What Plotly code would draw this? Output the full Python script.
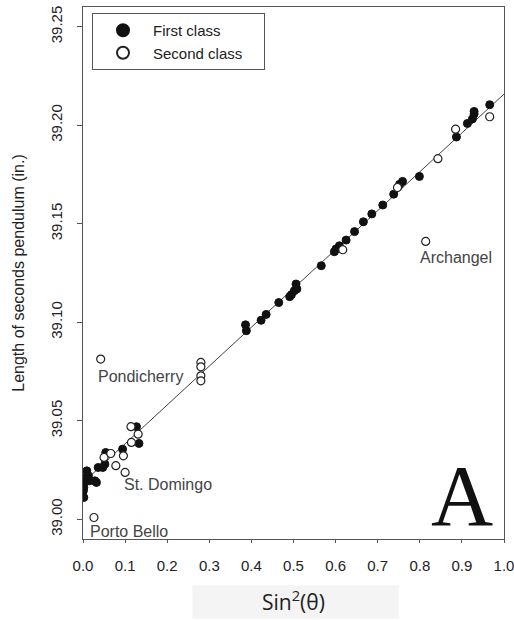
import plotly.graph_objects as go

# First class stations: sin^2(latitude), seconds-pendulum length (in.)
first_x = [0.001, 0.001, 0.002, 0.002, 0.007, 0.009, 0.013, 0.015, 0.028, 0.032,
           0.036, 0.047, 0.052, 0.054, 0.094, 0.127, 0.133,
           0.386, 0.388, 0.423, 0.435, 0.465, 0.491, 0.495, 0.502, 0.506, 0.508,
           0.566, 0.597, 0.601, 0.609, 0.625, 0.645, 0.666, 0.686, 0.712, 0.738,
           0.752, 0.759, 0.799, 0.887, 0.913, 0.925, 0.929, 0.929, 0.966]
first_y = [39.0145, 39.0179, 39.0111, 39.0161, 39.0212, 39.0246, 39.0221, 39.0195, 39.0195, 39.0187,
           39.0263, 39.0263, 39.0280, 39.0339, 39.0356, 39.0470, 39.0385,
           39.0987, 39.0957, 39.1010, 39.1040, 39.1100, 39.1130, 39.1140, 39.1160, 39.1194, 39.1169,
           39.1287, 39.1358, 39.1372, 39.1388, 39.1417, 39.1460, 39.1510, 39.1550, 39.1595, 39.1650,
           39.1700, 39.1715, 39.1740, 39.1940, 39.2009, 39.2032, 39.2057, 39.2070, 39.2104]

# Second class stations
second_x = [0.026, 0.042, 0.050, 0.066, 0.078, 0.096, 0.100, 0.114, 0.115, 0.131,
            0.280, 0.280, 0.280, 0.280, 0.617, 0.747, 0.814, 0.843, 0.885, 0.966]
second_y = [39.0009, 39.0813, 39.0314, 39.0334, 39.0272, 39.0322, 39.0238, 39.0470, 39.0390, 39.0432,
            39.0796, 39.0774, 39.0728, 39.0703, 39.1368, 39.1684, 39.1410, 39.1830, 39.1980, 39.2043]

# Fitted line endpoints
fit_x = [0.0, 1.0]
fit_y = [39.0186, 39.2158]

# Station labels
label_text = ["Pondicherry", "St. Domingo", "Porto Bello", "Archangel"]
label_x = [0.031, 0.092, 0.012, 0.795]
label_y = [39.0723, 39.0175, 38.9940, 39.1330]

x_ticks = [0.0, 0.1, 0.2, 0.3, 0.4, 0.5, 0.6, 0.7, 0.8, 0.9, 1.0]
y_ticks = [39.00, 39.05, 39.10, 39.15, 39.20, 39.25]

FONT = "Liberation Sans, Arial, sans-serif"
PAD = "\u00a0" * 4

fig = go.Figure()
fig.add_trace(go.Scatter(x=fit_x, y=fit_y, mode="lines",
                         line=dict(color="#444", width=1), showlegend=False, hoverinfo="skip"))
fig.add_trace(go.Scatter(x=first_x, y=first_y, mode="markers", name="First class" + PAD,
                         marker=dict(symbol="circle", size=8, color="#111",
                                     line=dict(color="#111", width=1))))
fig.add_trace(go.Scatter(x=second_x, y=second_y, mode="markers", name="Second class" + PAD,
                         marker=dict(symbol="circle", size=8, color="white",
                                     line=dict(color="#222", width=1.2))))

for t, lx, ly in zip(label_text, label_x, label_y):
    fig.add_annotation(x=lx, y=ly, text=t, showarrow=False, xanchor="left", yanchor="middle",
                       font=dict(family=FONT, size=16, color="#444"))

fig.add_annotation(x=0.9, y=0.081, xref="paper", yref="paper", text="A", showarrow=False,
                   xanchor="center", yanchor="middle",
                   font=dict(family="Liberation Serif, Times New Roman, serif", size=86, color="#111"))

# y-axis title
fig.add_annotation(x=-0.155, y=0.5, xref="paper", yref="paper", showarrow=False,
                   text="Length of seconds pendulum (in.)", textangle=-90,
                   xanchor="center", yanchor="middle",
                   font=dict(family=FONT, size=16, color="#222"))
# x-axis title with faint background
fig.add_shape(type="rect", xref="paper", yref="paper", x0=0.26, x1=0.75, y0=-0.15, y1=-0.087,
              fillcolor="#f4f4f4", line=dict(width=0), layer="below")
fig.add_annotation(x=0.5, y=-0.115, xref="paper", yref="paper", showarrow=False,
                   text="Sin<sup>2</sup>(θ)", xanchor="center", yanchor="middle",
                   font=dict(family="Open Sans, Lato, sans-serif", size=21, color="#222"))

fig.update_layout(
    width=514, height=620,
    margin=dict(l=83, r=10, t=7, b=81),
    paper_bgcolor="white", plot_bgcolor="white",
    font=dict(family=FONT, size=15, color="#222"),
    legend=dict(x=0.0214, y=0.9887, xanchor="left", yanchor="top",
                bordercolor="#555", borderwidth=1, bgcolor="white",
                font=dict(family=FONT, size=15, color="#222"),
                itemsizing="constant", itemwidth=50, tracegroupgap=0),
    xaxis=dict(range=[0, 1.0], tickvals=x_ticks, tickformat=".1f", automargin=False,
               ticks="outside", ticklen=3, tickcolor="#555",
               ticklabelstandoff=10, ticklabeloverflow="allow",
               showline=True, linecolor="#555", linewidth=1, mirror=True,
               showgrid=False, zeroline=False,
               tickfont=dict(family=FONT, size=15, color="#222")),
    yaxis=dict(range=[38.99, 39.26], tickvals=y_ticks, tickformat=".2f", automargin=False,
               tickangle=-90, ticks="outside", ticklen=5, tickcolor="#555",
               ticklabelstandoff=9, ticklabeloverflow="allow",
               showline=True, linecolor="#555", linewidth=1, mirror=True,
               showgrid=False, zeroline=False,
               tickfont=dict(family=FONT, size=15, color="#222")),
)

fig.write_html("out.html", config={"displayModeBar": False},
               post_script="document.body.style.margin='0px';document.body.style.overflow='hidden';")
